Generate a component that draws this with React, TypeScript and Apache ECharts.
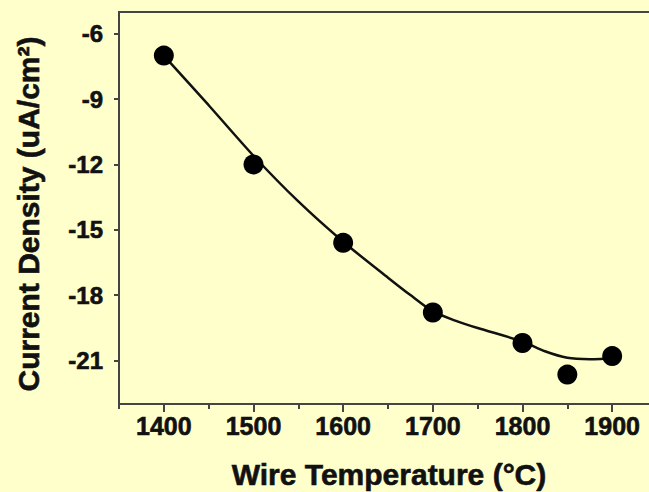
import React, { useEffect, useRef } from "react";
import * as echarts from "echarts";

// Measured points (Wire temperature °C, current density uA/cm²)
const temps = [1400, 1500, 1600, 1700, 1800, 1850, 1900];
const density = [-7.0, -12.0, -15.6, -18.8, -20.2, -21.65, -20.8];

// Fitted curve
const fitTemps = [1400, 1450, 1500, 1550, 1600, 1650, 1675, 1700, 1725, 1750, 1800, 1825, 1850, 1875, 1890, 1900];
const fitDensity = [-7.0, -9.28, -11.6, -13.7, -15.55, -17.2, -18.0, -18.75, -19.17, -19.51, -20.13, -20.58, -20.88, -20.94, -20.92, -20.84];

const xTickLabels = [1400, 1500, 1600, 1700, 1800, 1900];
const yTickLabels = [-21, -18, -15, -12, -9, -6];

const xTitle = "Wire Temperature (°C)";
const yTitle = "Current Density (uA/cm²)";

const FONT = "'Liberation Sans', Arial, sans-serif";
const INK = "#111";

export default function App() {
  const ref = useRef<HTMLDivElement>(null);
  useEffect(() => {
    document.body.style.margin = "0";
    document.body.style.background = "#FFFFCC";
    document.body.style.overflow = "hidden";
    const chart = echarts.init(ref.current!, undefined, { renderer: "svg" });
    const axisColor = "#444";
    const labelStyle = {
      color: INK,
      fontFamily: FONT,
      fontWeight: "bold",
      textBorderColor: INK,
      textBorderWidth: 0.6,
    };
    chart.setOption({
      animation: false,
      backgroundColor: "#FFFFCC",
      grid: {
        left: 119,
        right: 23,
        top: 12,
        bottom: 88,
        show: true,
        borderColor: axisColor,
        borderWidth: 2,
        backgroundColor: "transparent",
      },
      xAxis: [
        {
          type: "value",
          min: 1350,
          max: 1950,
          interval: 50,
          axisLine: { show: true, onZero: false, lineStyle: { color: axisColor, width: 2 } },
          axisTick: { show: true, length: 5, lineStyle: { color: axisColor, width: 2 } },
          axisLabel: {
            ...labelStyle,
            customValues: xTickLabels,
            formatter: (v: number) => String(v),
            margin: 9,
            fontSize: 25,
          },
          splitLine: { show: false },
        },
        {
          type: "value",
          position: "bottom",
          min: 1350,
          max: 1950,
          axisLine: { show: false, onZero: false },
          axisTick: { show: true, customValues: xTickLabels, length: 8, lineStyle: { color: axisColor, width: 2 } },
          axisLabel: { show: false },
          splitLine: { show: false },
        },
      ],
      yAxis: {
        type: "value",
        min: -23,
        max: -5,
        axisLine: { show: true, onZero: false, lineStyle: { color: axisColor, width: 2 } },
        axisTick: { show: true, customValues: yTickLabels, length: 5, lineStyle: { color: axisColor, width: 2 } },
        axisLabel: {
          ...labelStyle,
          customValues: yTickLabels,
          formatter: (v: number) => String(v),
          margin: 16,
          fontSize: 24,
        },
        splitLine: { show: false },
      },
      series: [
        {
          type: "line",
          data: fitTemps.map((t, i) => [t, fitDensity[i]]),
          smooth: 0.25,
          showSymbol: false,
          lineStyle: { color: INK, width: 2.5 },
          z: 2,
        },
        {
          type: "scatter",
          data: temps.map((t, i) => [t, density[i]]),
          symbol: "circle",
          symbolSize: 20,
          itemStyle: { color: "#000", opacity: 1 },
          z: 3,
        },
      ],
      graphic: [
        {
          type: "text",
          x: 389,
          y: 474,
          style: {
            text: xTitle,
            fontFamily: FONT,
            fontWeight: "bold",
            fontSize: 30,
            fill: INK,
            stroke: INK,
            lineWidth: 0.6,
            align: "center",
            verticalAlign: "middle",
          },
        },
        {
          type: "text",
          x: 28.5,
          y: 214,
          rotation: Math.PI / 2,
          style: {
            text: yTitle,
            fontFamily: FONT,
            fontWeight: "bold",
            fontSize: 30,
            fill: INK,
            stroke: INK,
            lineWidth: 0.6,
            align: "center",
            verticalAlign: "middle",
          },
        },
      ],
    });
    return () => chart.dispose();
  }, []);
  return (
    <div
      ref={ref}
      style={{ position: "fixed", left: 0, top: 0, width: 680, height: 492 }}
    />
  );
}
